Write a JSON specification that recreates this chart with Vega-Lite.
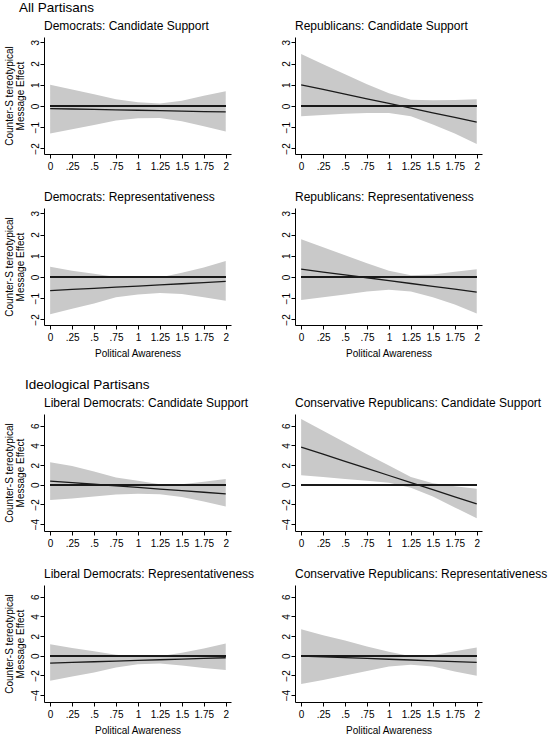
{
  "$schema": "https://vega.github.io/schema/vega-lite/v6.json",
  "padding": {"left": 4, "top": 0, "right": 0, "bottom": 0},
  "background": "white",
  "datasets": {
    "dem_cs": [
      {"x": 0, "lo": -1.3, "hi": 1.0, "fit": -0.12},
      {"x": 0.25, "lo": -1.1, "hi": 0.78, "fit": -0.14},
      {"x": 0.5, "lo": -0.9, "hi": 0.55, "fit": -0.16},
      {"x": 0.75, "lo": -0.68, "hi": 0.32, "fit": -0.18},
      {"x": 1, "lo": -0.58, "hi": 0.18, "fit": -0.2},
      {"x": 1.25, "lo": -0.56, "hi": 0.12, "fit": -0.22},
      {"x": 1.5, "lo": -0.72, "hi": 0.25, "fit": -0.24},
      {"x": 1.75, "lo": -0.95, "hi": 0.48, "fit": -0.26},
      {"x": 2, "lo": -1.2, "hi": 0.7, "fit": -0.28}
    ],
    "rep_cs": [
      {"x": 0, "lo": -0.48, "hi": 2.45, "fit": 1.0},
      {"x": 0.25, "lo": -0.42, "hi": 1.97, "fit": 0.78},
      {"x": 0.5, "lo": -0.37, "hi": 1.5, "fit": 0.56},
      {"x": 0.75, "lo": -0.33, "hi": 1.03, "fit": 0.34},
      {"x": 1, "lo": -0.33, "hi": 0.6, "fit": 0.12},
      {"x": 1.25, "lo": -0.48, "hi": 0.3, "fit": -0.1},
      {"x": 1.5, "lo": -0.87, "hi": 0.27, "fit": -0.32},
      {"x": 1.75, "lo": -1.3, "hi": 0.28, "fit": -0.54},
      {"x": 2, "lo": -1.79, "hi": 0.32, "fit": -0.76}
    ],
    "dem_rep": [
      {"x": 0, "lo": -1.75, "hi": 0.48, "fit": -0.64},
      {"x": 0.25, "lo": -1.5, "hi": 0.3, "fit": -0.586},
      {"x": 0.5, "lo": -1.25, "hi": 0.15, "fit": -0.532},
      {"x": 0.75, "lo": -0.95, "hi": 0.0, "fit": -0.479},
      {"x": 1, "lo": -0.82, "hi": -0.05, "fit": -0.425},
      {"x": 1.25, "lo": -0.75, "hi": -0.02, "fit": -0.371},
      {"x": 1.5, "lo": -0.8, "hi": 0.2, "fit": -0.317},
      {"x": 1.75, "lo": -0.95, "hi": 0.45, "fit": -0.264},
      {"x": 2, "lo": -1.12, "hi": 0.75, "fit": -0.21}
    ],
    "rep_rep": [
      {"x": 0, "lo": -1.08, "hi": 1.78, "fit": 0.37},
      {"x": 0.25, "lo": -0.95, "hi": 1.4, "fit": 0.235},
      {"x": 0.5, "lo": -0.82, "hi": 1.02, "fit": 0.1},
      {"x": 0.75, "lo": -0.68, "hi": 0.65, "fit": -0.035},
      {"x": 1, "lo": -0.6, "hi": 0.3, "fit": -0.17},
      {"x": 1.25, "lo": -0.68, "hi": 0.08, "fit": -0.305},
      {"x": 1.5, "lo": -0.95, "hi": 0.12, "fit": -0.44},
      {"x": 1.75, "lo": -1.3, "hi": 0.25, "fit": -0.575},
      {"x": 2, "lo": -1.72, "hi": 0.37, "fit": -0.71}
    ],
    "lib_cs": [
      {"x": 0, "lo": -1.55, "hi": 2.3, "fit": 0.38},
      {"x": 0.25, "lo": -1.4, "hi": 1.9, "fit": 0.2175},
      {"x": 0.5, "lo": -1.2, "hi": 1.35, "fit": 0.055},
      {"x": 0.75, "lo": -1.0, "hi": 0.75, "fit": -0.1075},
      {"x": 1, "lo": -0.9, "hi": 0.4, "fit": -0.27},
      {"x": 1.25, "lo": -0.95, "hi": 0.05, "fit": -0.4325},
      {"x": 1.5, "lo": -1.25, "hi": 0.05, "fit": -0.595},
      {"x": 1.75, "lo": -1.7, "hi": 0.3, "fit": -0.7575},
      {"x": 2, "lo": -2.2, "hi": 0.58, "fit": -0.92}
    ],
    "cons_cs": [
      {"x": 0, "lo": 0.96, "hi": 6.68, "fit": 3.84},
      {"x": 0.25, "lo": 0.78, "hi": 5.5, "fit": 3.116},
      {"x": 0.5, "lo": 0.6, "hi": 4.3, "fit": 2.393},
      {"x": 0.75, "lo": 0.4, "hi": 3.1, "fit": 1.669},
      {"x": 1, "lo": 0.2, "hi": 1.95, "fit": 0.945},
      {"x": 1.25, "lo": -0.3, "hi": 0.8, "fit": 0.221},
      {"x": 1.5, "lo": -1.2, "hi": 0.15, "fit": -0.503},
      {"x": 1.75, "lo": -2.3, "hi": -0.15, "fit": -1.226},
      {"x": 2, "lo": -3.4, "hi": -0.4, "fit": -1.95}
    ],
    "lib_rep": [
      {"x": 0, "lo": -2.53, "hi": 1.18, "fit": -0.74},
      {"x": 0.25, "lo": -2.1, "hi": 0.8, "fit": -0.6725},
      {"x": 0.5, "lo": -1.7, "hi": 0.45, "fit": -0.605},
      {"x": 0.75, "lo": -1.2, "hi": 0.1, "fit": -0.5375},
      {"x": 1, "lo": -0.85, "hi": -0.1, "fit": -0.47},
      {"x": 1.25, "lo": -0.78, "hi": -0.05, "fit": -0.4025},
      {"x": 1.5, "lo": -1.0, "hi": 0.3, "fit": -0.335},
      {"x": 1.75, "lo": -1.25, "hi": 0.75, "fit": -0.2675},
      {"x": 2, "lo": -1.45, "hi": 1.25, "fit": -0.2}
    ],
    "cons_rep": [
      {"x": 0, "lo": -2.86, "hi": 2.7, "fit": -0.03},
      {"x": 0.25, "lo": -2.45, "hi": 2.1, "fit": -0.11},
      {"x": 0.5, "lo": -2.0, "hi": 1.55, "fit": -0.19},
      {"x": 0.75, "lo": -1.55, "hi": 0.95, "fit": -0.27},
      {"x": 1, "lo": -1.1, "hi": 0.4, "fit": -0.35},
      {"x": 1.25, "lo": -0.9, "hi": -0.05, "fit": -0.43},
      {"x": 1.5, "lo": -1.1, "hi": 0.05, "fit": -0.51},
      {"x": 1.75, "lo": -1.6, "hi": 0.45, "fit": -0.59},
      {"x": 2, "lo": -2.02, "hi": 0.84, "fit": -0.67}
    ]
  },
  "spacing": 19,
  "vconcat": [
    {
      "title": {"text": "All Partisans", "fontSize": 13.5, "anchor": "start", "frame": "group", "dx": -25, "offset": 6},
      "spacing": 20,
      "vconcat": [
        {
          "bounds": "flush",
          "spacing": 64,
          "hconcat": [
            {
              "width": 187, "height": 117,
              "title": "Democrats: Candidate Support",
              "data": {"name": "dem_cs"},
              "encoding": {
                "x": {"field": "x", "type": "quantitative", "scale": {"domain": [-0.07, 2.06], "nice": false, "zero": false}, "axis": {"values": [0, 0.25, 0.5, 0.75, 1, 1.25, 1.5, 1.75, 2], "labelExpr": "datum.value == 0 ? '0' : datum.value < 1 ? replace(toString(datum.value), '0.', '.') : toString(datum.value)", "title": null}},
                "y": {"field": "lo", "type": "quantitative", "scale": {"domain": [-2.26, 3.25], "nice": false, "zero": false}, "axis": {"values": [-2, -1, 0, 1, 2, 3], "labelOverlap": false, "labelAngle": 270, "labelAlign": "center", "labelBaseline": "alphabetic", "labelPadding": 2, "titlePadding": 5, "titleLineHeight": 11}, "title": ["Counter-S tereotypical", "Message Effect"]}
              },
              "layer": [
                {"mark": {"type": "area", "color": "#c9c9c9", "opacity": 1}, "encoding": {"y2": {"field": "hi"}}},
                {"mark": {"type": "rule", "color": "#1a1a1a", "strokeWidth": 1.5}, "encoding": {"x": {"datum": 0}, "x2": {"datum": 2}, "y": {"datum": 0, "type": "quantitative", "scale": {"domain": [-2.26, 3.25], "nice": false, "zero": false}, "axis": {"values": [-2, -1, 0, 1, 2, 3], "labelOverlap": false, "labelAngle": 270, "labelAlign": "center", "labelBaseline": "alphabetic", "labelPadding": 2, "titlePadding": 5, "titleLineHeight": 11}, "title": ["Counter-S tereotypical", "Message Effect"]}}},
                {"mark": {"type": "line", "color": "#1a1a1a", "strokeWidth": 1.3}, "encoding": {"y": {"field": "fit", "type": "quantitative", "scale": {"domain": [-2.26, 3.25], "nice": false, "zero": false}, "axis": {"values": [-2, -1, 0, 1, 2, 3], "labelOverlap": false, "labelAngle": 270, "labelAlign": "center", "labelBaseline": "alphabetic", "labelPadding": 2, "titlePadding": 5, "titleLineHeight": 11}, "title": ["Counter-S tereotypical", "Message Effect"]}}}
              ]
            },
            {
              "width": 187, "height": 117,
              "title": "Republicans: Candidate Support",
              "data": {"name": "rep_cs"},
              "encoding": {
                "x": {"field": "x", "type": "quantitative", "scale": {"domain": [-0.07, 2.06], "nice": false, "zero": false}, "axis": {"values": [0, 0.25, 0.5, 0.75, 1, 1.25, 1.5, 1.75, 2], "labelExpr": "datum.value == 0 ? '0' : datum.value < 1 ? replace(toString(datum.value), '0.', '.') : toString(datum.value)", "title": null}},
                "y": {"field": "lo", "type": "quantitative", "scale": {"domain": [-2.26, 3.25], "nice": false, "zero": false}, "axis": {"values": [-2, -1, 0, 1, 2, 3], "labelOverlap": false, "labelAngle": 270, "labelAlign": "center", "labelBaseline": "alphabetic", "labelPadding": 2}, "title": null}
              },
              "layer": [
                {"mark": {"type": "area", "color": "#c9c9c9", "opacity": 1}, "encoding": {"y2": {"field": "hi"}}},
                {"mark": {"type": "rule", "color": "#1a1a1a", "strokeWidth": 1.5}, "encoding": {"x": {"datum": 0}, "x2": {"datum": 2}, "y": {"datum": 0, "type": "quantitative", "scale": {"domain": [-2.26, 3.25], "nice": false, "zero": false}, "axis": {"values": [-2, -1, 0, 1, 2, 3], "labelOverlap": false, "labelAngle": 270, "labelAlign": "center", "labelBaseline": "alphabetic", "labelPadding": 2}, "title": null}}},
                {"mark": {"type": "line", "color": "#1a1a1a", "strokeWidth": 1.3}, "encoding": {"y": {"field": "fit", "type": "quantitative", "scale": {"domain": [-2.26, 3.25], "nice": false, "zero": false}, "axis": {"values": [-2, -1, 0, 1, 2, 3], "labelOverlap": false, "labelAngle": 270, "labelAlign": "center", "labelBaseline": "alphabetic", "labelPadding": 2}, "title": null}}}
              ]
            }
          ]
        },
        {
          "bounds": "flush",
          "spacing": 64,
          "hconcat": [
            {
              "width": 187, "height": 117,
              "title": "Democrats: Representativeness",
              "data": {"name": "dem_rep"},
              "encoding": {
                "x": {"field": "x", "type": "quantitative", "scale": {"domain": [-0.07, 2.06], "nice": false, "zero": false}, "axis": {"values": [0, 0.25, 0.5, 0.75, 1, 1.25, 1.5, 1.75, 2], "labelExpr": "datum.value == 0 ? '0' : datum.value < 1 ? replace(toString(datum.value), '0.', '.') : toString(datum.value)", "title": "Political Awareness", "titlePadding": 6}},
                "y": {"field": "lo", "type": "quantitative", "scale": {"domain": [-2.26, 3.25], "nice": false, "zero": false}, "axis": {"values": [-2, -1, 0, 1, 2, 3], "labelOverlap": false, "labelAngle": 270, "labelAlign": "center", "labelBaseline": "alphabetic", "labelPadding": 2, "titlePadding": 5, "titleLineHeight": 11}, "title": ["Counter-S tereotypical", "Message Effect"]}
              },
              "layer": [
                {"mark": {"type": "area", "color": "#c9c9c9", "opacity": 1}, "encoding": {"y2": {"field": "hi"}}},
                {"mark": {"type": "rule", "color": "#1a1a1a", "strokeWidth": 1.5}, "encoding": {"x": {"datum": 0}, "x2": {"datum": 2}, "y": {"datum": 0, "type": "quantitative", "scale": {"domain": [-2.26, 3.25], "nice": false, "zero": false}, "axis": {"values": [-2, -1, 0, 1, 2, 3], "labelOverlap": false, "labelAngle": 270, "labelAlign": "center", "labelBaseline": "alphabetic", "labelPadding": 2, "titlePadding": 5, "titleLineHeight": 11}, "title": ["Counter-S tereotypical", "Message Effect"]}}},
                {"mark": {"type": "line", "color": "#1a1a1a", "strokeWidth": 1.3}, "encoding": {"y": {"field": "fit", "type": "quantitative", "scale": {"domain": [-2.26, 3.25], "nice": false, "zero": false}, "axis": {"values": [-2, -1, 0, 1, 2, 3], "labelOverlap": false, "labelAngle": 270, "labelAlign": "center", "labelBaseline": "alphabetic", "labelPadding": 2, "titlePadding": 5, "titleLineHeight": 11}, "title": ["Counter-S tereotypical", "Message Effect"]}}}
              ]
            },
            {
              "width": 187, "height": 117,
              "title": "Republicans: Representativeness",
              "data": {"name": "rep_rep"},
              "encoding": {
                "x": {"field": "x", "type": "quantitative", "scale": {"domain": [-0.07, 2.06], "nice": false, "zero": false}, "axis": {"values": [0, 0.25, 0.5, 0.75, 1, 1.25, 1.5, 1.75, 2], "labelExpr": "datum.value == 0 ? '0' : datum.value < 1 ? replace(toString(datum.value), '0.', '.') : toString(datum.value)", "title": "Political Awareness", "titlePadding": 6}},
                "y": {"field": "lo", "type": "quantitative", "scale": {"domain": [-2.26, 3.25], "nice": false, "zero": false}, "axis": {"values": [-2, -1, 0, 1, 2, 3], "labelOverlap": false, "labelAngle": 270, "labelAlign": "center", "labelBaseline": "alphabetic", "labelPadding": 2}, "title": null}
              },
              "layer": [
                {"mark": {"type": "area", "color": "#c9c9c9", "opacity": 1}, "encoding": {"y2": {"field": "hi"}}},
                {"mark": {"type": "rule", "color": "#1a1a1a", "strokeWidth": 1.5}, "encoding": {"x": {"datum": 0}, "x2": {"datum": 2}, "y": {"datum": 0, "type": "quantitative", "scale": {"domain": [-2.26, 3.25], "nice": false, "zero": false}, "axis": {"values": [-2, -1, 0, 1, 2, 3], "labelOverlap": false, "labelAngle": 270, "labelAlign": "center", "labelBaseline": "alphabetic", "labelPadding": 2}, "title": null}}},
                {"mark": {"type": "line", "color": "#1a1a1a", "strokeWidth": 1.3}, "encoding": {"y": {"field": "fit", "type": "quantitative", "scale": {"domain": [-2.26, 3.25], "nice": false, "zero": false}, "axis": {"values": [-2, -1, 0, 1, 2, 3], "labelOverlap": false, "labelAngle": 270, "labelAlign": "center", "labelBaseline": "alphabetic", "labelPadding": 2}, "title": null}}}
              ]
            }
          ]
        }
      ]
    },
    {
      "title": {"text": "Ideological Partisans", "fontSize": 13.5, "anchor": "start", "frame": "group", "dx": -19, "offset": 6},
      "spacing": 20,
      "vconcat": [
        {
          "bounds": "flush",
          "spacing": 64,
          "hconcat": [
            {
              "width": 187, "height": 117,
              "title": "Liberal Democrats: Candidate Support",
              "data": {"name": "lib_cs"},
              "encoding": {
                "x": {"field": "x", "type": "quantitative", "scale": {"domain": [-0.07, 2.06], "nice": false, "zero": false}, "axis": {"values": [0, 0.25, 0.5, 0.75, 1, 1.25, 1.5, 1.75, 2], "labelExpr": "datum.value == 0 ? '0' : datum.value < 1 ? replace(toString(datum.value), '0.', '.') : toString(datum.value)", "title": null}},
                "y": {"field": "lo", "type": "quantitative", "scale": {"domain": [-4.7, 7.2], "nice": false, "zero": false}, "axis": {"values": [-4, -2, 0, 2, 4, 6], "labelOverlap": false, "labelAngle": 270, "labelAlign": "center", "labelBaseline": "alphabetic", "labelPadding": 2, "titlePadding": 5, "titleLineHeight": 11}, "title": ["Counter-S tereotypical", "Message Effect"]}
              },
              "layer": [
                {"mark": {"type": "area", "color": "#c9c9c9", "opacity": 1}, "encoding": {"y2": {"field": "hi"}}},
                {"mark": {"type": "rule", "color": "#1a1a1a", "strokeWidth": 1.5}, "encoding": {"x": {"datum": 0}, "x2": {"datum": 2}, "y": {"datum": 0, "type": "quantitative", "scale": {"domain": [-4.7, 7.2], "nice": false, "zero": false}, "axis": {"values": [-4, -2, 0, 2, 4, 6], "labelOverlap": false, "labelAngle": 270, "labelAlign": "center", "labelBaseline": "alphabetic", "labelPadding": 2, "titlePadding": 5, "titleLineHeight": 11}, "title": ["Counter-S tereotypical", "Message Effect"]}}},
                {"mark": {"type": "line", "color": "#1a1a1a", "strokeWidth": 1.3}, "encoding": {"y": {"field": "fit", "type": "quantitative", "scale": {"domain": [-4.7, 7.2], "nice": false, "zero": false}, "axis": {"values": [-4, -2, 0, 2, 4, 6], "labelOverlap": false, "labelAngle": 270, "labelAlign": "center", "labelBaseline": "alphabetic", "labelPadding": 2, "titlePadding": 5, "titleLineHeight": 11}, "title": ["Counter-S tereotypical", "Message Effect"]}}}
              ]
            },
            {
              "width": 187, "height": 117,
              "title": "Conservative Republicans: Candidate Support",
              "data": {"name": "cons_cs"},
              "encoding": {
                "x": {"field": "x", "type": "quantitative", "scale": {"domain": [-0.07, 2.06], "nice": false, "zero": false}, "axis": {"values": [0, 0.25, 0.5, 0.75, 1, 1.25, 1.5, 1.75, 2], "labelExpr": "datum.value == 0 ? '0' : datum.value < 1 ? replace(toString(datum.value), '0.', '.') : toString(datum.value)", "title": null}},
                "y": {"field": "lo", "type": "quantitative", "scale": {"domain": [-4.7, 7.2], "nice": false, "zero": false}, "axis": {"values": [-4, -2, 0, 2, 4, 6], "labelOverlap": false, "labelAngle": 270, "labelAlign": "center", "labelBaseline": "alphabetic", "labelPadding": 2}, "title": null}
              },
              "layer": [
                {"mark": {"type": "area", "color": "#c9c9c9", "opacity": 1}, "encoding": {"y2": {"field": "hi"}}},
                {"mark": {"type": "rule", "color": "#1a1a1a", "strokeWidth": 1.5}, "encoding": {"x": {"datum": 0}, "x2": {"datum": 2}, "y": {"datum": 0, "type": "quantitative", "scale": {"domain": [-4.7, 7.2], "nice": false, "zero": false}, "axis": {"values": [-4, -2, 0, 2, 4, 6], "labelOverlap": false, "labelAngle": 270, "labelAlign": "center", "labelBaseline": "alphabetic", "labelPadding": 2}, "title": null}}},
                {"mark": {"type": "line", "color": "#1a1a1a", "strokeWidth": 1.3}, "encoding": {"y": {"field": "fit", "type": "quantitative", "scale": {"domain": [-4.7, 7.2], "nice": false, "zero": false}, "axis": {"values": [-4, -2, 0, 2, 4, 6], "labelOverlap": false, "labelAngle": 270, "labelAlign": "center", "labelBaseline": "alphabetic", "labelPadding": 2}, "title": null}}}
              ]
            }
          ]
        },
        {
          "bounds": "flush",
          "spacing": 64,
          "hconcat": [
            {
              "width": 187, "height": 117,
              "title": "Liberal Democrats: Representativeness",
              "data": {"name": "lib_rep"},
              "encoding": {
                "x": {"field": "x", "type": "quantitative", "scale": {"domain": [-0.07, 2.06], "nice": false, "zero": false}, "axis": {"values": [0, 0.25, 0.5, 0.75, 1, 1.25, 1.5, 1.75, 2], "labelExpr": "datum.value == 0 ? '0' : datum.value < 1 ? replace(toString(datum.value), '0.', '.') : toString(datum.value)", "title": "Political Awareness", "titlePadding": 6}},
                "y": {"field": "lo", "type": "quantitative", "scale": {"domain": [-4.7, 7.2], "nice": false, "zero": false}, "axis": {"values": [-4, -2, 0, 2, 4, 6], "labelOverlap": false, "labelAngle": 270, "labelAlign": "center", "labelBaseline": "alphabetic", "labelPadding": 2, "titlePadding": 5, "titleLineHeight": 11}, "title": ["Counter-S tereotypical", "Message Effect"]}
              },
              "layer": [
                {"mark": {"type": "area", "color": "#c9c9c9", "opacity": 1}, "encoding": {"y2": {"field": "hi"}}},
                {"mark": {"type": "rule", "color": "#1a1a1a", "strokeWidth": 1.5}, "encoding": {"x": {"datum": 0}, "x2": {"datum": 2}, "y": {"datum": 0, "type": "quantitative", "scale": {"domain": [-4.7, 7.2], "nice": false, "zero": false}, "axis": {"values": [-4, -2, 0, 2, 4, 6], "labelOverlap": false, "labelAngle": 270, "labelAlign": "center", "labelBaseline": "alphabetic", "labelPadding": 2, "titlePadding": 5, "titleLineHeight": 11}, "title": ["Counter-S tereotypical", "Message Effect"]}}},
                {"mark": {"type": "line", "color": "#1a1a1a", "strokeWidth": 1.3}, "encoding": {"y": {"field": "fit", "type": "quantitative", "scale": {"domain": [-4.7, 7.2], "nice": false, "zero": false}, "axis": {"values": [-4, -2, 0, 2, 4, 6], "labelOverlap": false, "labelAngle": 270, "labelAlign": "center", "labelBaseline": "alphabetic", "labelPadding": 2, "titlePadding": 5, "titleLineHeight": 11}, "title": ["Counter-S tereotypical", "Message Effect"]}}}
              ]
            },
            {
              "width": 187, "height": 117,
              "title": "Conservative Republicans: Representativeness",
              "data": {"name": "cons_rep"},
              "encoding": {
                "x": {"field": "x", "type": "quantitative", "scale": {"domain": [-0.07, 2.06], "nice": false, "zero": false}, "axis": {"values": [0, 0.25, 0.5, 0.75, 1, 1.25, 1.5, 1.75, 2], "labelExpr": "datum.value == 0 ? '0' : datum.value < 1 ? replace(toString(datum.value), '0.', '.') : toString(datum.value)", "title": "Political Awareness", "titlePadding": 6}},
                "y": {"field": "lo", "type": "quantitative", "scale": {"domain": [-4.7, 7.2], "nice": false, "zero": false}, "axis": {"values": [-4, -2, 0, 2, 4, 6], "labelOverlap": false, "labelAngle": 270, "labelAlign": "center", "labelBaseline": "alphabetic", "labelPadding": 2}, "title": null}
              },
              "layer": [
                {"mark": {"type": "area", "color": "#c9c9c9", "opacity": 1}, "encoding": {"y2": {"field": "hi"}}},
                {"mark": {"type": "rule", "color": "#1a1a1a", "strokeWidth": 1.5}, "encoding": {"x": {"datum": 0}, "x2": {"datum": 2}, "y": {"datum": 0, "type": "quantitative", "scale": {"domain": [-4.7, 7.2], "nice": false, "zero": false}, "axis": {"values": [-4, -2, 0, 2, 4, 6], "labelOverlap": false, "labelAngle": 270, "labelAlign": "center", "labelBaseline": "alphabetic", "labelPadding": 2}, "title": null}}},
                {"mark": {"type": "line", "color": "#1a1a1a", "strokeWidth": 1.3}, "encoding": {"y": {"field": "fit", "type": "quantitative", "scale": {"domain": [-4.7, 7.2], "nice": false, "zero": false}, "axis": {"values": [-4, -2, 0, 2, 4, 6], "labelOverlap": false, "labelAngle": 270, "labelAlign": "center", "labelBaseline": "alphabetic", "labelPadding": 2}, "title": null}}}
              ]
            }
          ]
        }
      ]
    }
  ],
  "config": {
    "font": "Liberation Sans",
    "view": {"stroke": null},
    "axis": {"grid": false, "domainColor": "#000", "tickColor": "#000", "labelColor": "#000", "titleColor": "#000", "labelFont": "Liberation Sans", "titleFont": "Liberation Sans", "labelFontSize": 10, "titleFontSize": 10, "titleFontWeight": "normal", "tickSize": 4, "labelPadding": 3, "labelOverlap": false, "labelFlush": false},
    "title": {"font": "Liberation Sans", "fontSize": 12, "fontWeight": "normal", "anchor": "start", "frame": "group", "offset": 4, "color": "#000"}
  }
}
